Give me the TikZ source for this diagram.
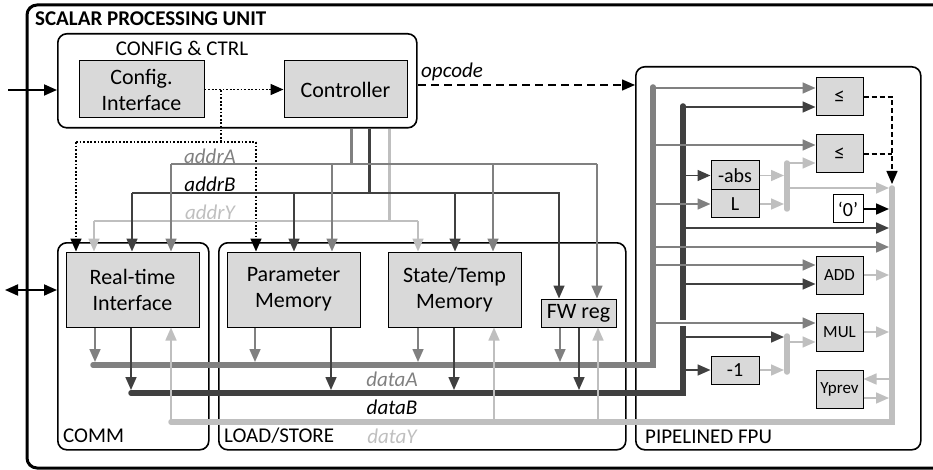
\documentclass[tikz,border=0pt]{standalone}
\usepackage{fontspec}
\setmainfont{Carlito}
\usetikzlibrary{arrows.meta}
\definecolor{cA}{HTML}{808080}
\definecolor{cB}{HTML}{404040}
\definecolor{cY}{HTML}{BFBFBF}
\definecolor{boxfill}{HTML}{D9D9D9}
\newcommand\fsz[2]{\fontsize{#1}{#2}\selectfont}
\tikzset{
  blk/.style={draw=black, fill=boxfill, line width=1pt, align=center, inner sep=0pt, font=\fsz{22}{26}},
  sblk/.style={blk, font=\fsz{17}{20}},
  grp/.style={draw=black, line width=1.6pt, rounded corners=9pt, inner sep=0pt},
  ar/.style={-{Triangle[length=13pt,width=11pt]}},
  lA/.style={draw=cA, line width=1.6pt},
  lB/.style={draw=cB, line width=1.6pt},
  lY/.style={draw=cY, line width=1.6pt},
  busA/.style={draw=cA, line width=2.6pt},
  busB/.style={draw=cB, line width=2.6pt},
  busY/.style={draw=cY, line width=2.6pt},
  dA/.style={draw=cA, line width=5.5pt, line cap=round},
  dB/.style={draw=cB, line width=5.5pt, line cap=round},
  dY/.style={draw=cY, line width=5.5pt, line cap=round},
  lbl/.style={font=\fsz{21}{25}\itshape, inner sep=0pt},
  grplbl/.style={font=\fsz{21}{25}, inner sep=0pt, anchor=west},
  dotl/.style={draw=black, line width=1.5pt, dash pattern=on 1.8pt off 1.8pt},
}
\begin{document}
\begin{tikzpicture}[x=1pt,y=-1pt]
\useasboundingbox (0,0) rectangle (933,470);

% outer unit frame (open towards the right edge)
\draw[line width=3pt, rounded corners=10pt] (940,5) -- (27,5) -- (27,468) -- (940,468);
\node[anchor=west, font=\fsz{21}{25}\bfseries, inner sep=0pt] (title) at (35,19) {SCALAR PROCESSING UNIT};

% group containers
\node[grp, anchor=north west, minimum width=359pt, minimum height=94pt] (cc) at (57,33) {};
\node[font=\fsz{21}{25}, inner sep=0pt] (cclbl) at (182,48) {CONFIG \& CTRL};
\node[grp, anchor=north west, minimum width=151pt, minimum height=207pt] (comm) at (57,242) {};
\node[grp, anchor=north west, minimum width=407pt, minimum height=207pt] (ls) at (218,242) {};
\node[grp, anchor=north west, minimum width=285pt, minimum height=383pt] (fpu) at (635,66) {};
\node[grplbl] (commlbl) at (63,436) {COMM};
\node[grplbl] (lslbl) at (224,436) {LOAD/STORE};
\node[grplbl] (fpulbl) at (645,437) {PIPELINED FPU};

% configuration and control blocks
\node[blk, minimum width=125pt, minimum height=57pt] (cfg) at (141.5,89.5) {Config.\\Interface};
\node[blk, minimum width=123pt, minimum height=57pt] (ctrl) at (345.5,89.5) {Controller};

% memories and interface blocks
\node[blk, minimum width=133pt, minimum height=75pt] (rti) at (132.5,289.5) {Real-time\\Interface};
\node[blk, minimum width=133pt, minimum height=75pt] (pmem) at (293.5,289.5) {Parameter\\Memory};
\node[blk, minimum width=133pt, minimum height=75pt] (smem) at (454.5,289.5) {State/Temp\\Memory};
\node[blk, minimum width=75pt, minimum height=28pt] (fw) at (578.5,313) {FW reg};

% FPU units
\node[sblk, font=\fsz{21}{24}, minimum width=47pt, minimum height=38pt] (le1) at (839.5,97) {≤};
\node[sblk, font=\fsz{21}{24}, minimum width=47pt, minimum height=38pt] (le2) at (839.5,154) {≤};
\node[blk, font=\fsz{20}{24}, minimum width=48pt, minimum height=29pt] (nabs) at (735,175.5) {-abs};
\node[blk, font=\fsz{20}{24}, minimum width=48pt, minimum height=28pt] (lim) at (735,204) {L};
\node[blk, fill=white, font=\fsz{20}{24}, minimum width=30pt, minimum height=28pt] (zero) at (848,209) {‘0’};
\node[sblk, minimum width=47pt, minimum height=38pt] (add) at (839.5,275) {ADD};
\node[sblk, minimum width=47pt, minimum height=38pt] (mul) at (839.5,332) {MUL};
\node[blk, font=\fsz{20}{24}, minimum width=48pt, minimum height=28pt] (dec) at (735,370) {-1};
\node[sblk, minimum width=47pt, minimum height=38pt] (yprev) at (839.5,389) {Yprev};

% external ports
\coordinate (cfgin) at (8,90);
\coordinate (ioext) at (5,290);
\draw[line width=1.8pt, ar] (cfgin) -- (cc.west |- cfgin);
\draw[line width=1.8pt, {Triangle[length=13pt,width=11pt]}-{Triangle[length=13pt,width=11pt]}] (ioext) -- (comm.west |- ioext);

% opcode to the FPU
\coordinate (opc) at (418,85);
\draw[line width=1.4pt, dash pattern=on 8pt off 5pt, ar] (opc) -- (fpu.west |- opc);
\node[lbl, anchor=south west] (opclbl) at (421,81) {opcode};

% configuration path (dotted)
\coordinate (cfgsplit) at (221,90);
\coordinate (cfgl) at (76,142);
\coordinate (cfgr) at (256,142);
\draw[dotl, ar] (cfg.east) -- (ctrl.west);
\draw[dotl] (cfgsplit) -- (221,142);
\draw[dotl] (cfgl) -- (cfgr);
\draw[dotl, ar] (cfgl) -- (cfgl |- rti.north);
\draw[dotl, ar] (cfgr) -- (cfgr |- pmem.north);

% address buses from the controller
\draw[cA, line width=3pt] (351,0 |- cc.south) -- (351,164);
\draw[cB, line width=3pt] (369,0 |- cc.south) -- (369,193);
\draw[cY, line width=3pt] (389,0 |- cc.south) -- (389,221);
\draw[busA] (171,164) -- (597,164);
\draw[busB] (132,193) -- (560,193);
\draw[busY] (94,221) -- (418,221);
\node[lbl, text=cA] (addrA) at (210,156) {addrA};
\node[lbl, text=black] (addrB) at (210,184) {addrB};
\node[lbl, text=cY] (addrY) at (210,212) {addrY};

\draw[lY, ar] (94,221) -- (94,0 |- rti.north);
\draw[lB, ar] (132,193) -- (132,0 |- rti.north);
\draw[lA, ar] (171,164) -- (171,0 |- rti.north);
\draw[lB, ar] (294,193) -- (294,0 |- pmem.north);
\draw[lA, ar] (332,164) -- (332,0 |- pmem.north);
\draw[lY, ar] (418,221) -- (418,0 |- smem.north);
\draw[lB, ar] (455,193) -- (455,0 |- smem.north);
\draw[lA, ar] (493,164) -- (493,0 |- smem.north);
\draw[lB, ar] (559,193) -- (559,0 |- fw.north);
\draw[lA, ar] (597,164) -- (597,0 |- fw.north);

% data buses
\draw[dA] (93,365) -- (653,365) -- (653,87);
\draw[dB] (131,393) -- (683,393) -- (683,106);
\draw[dY] (171,422) -- (892,422) -- (892,188);
\node[lbl, text=cA] (dataA) at (392,379) {dataA};
\node[lbl, text=black] (dataB) at (392,407) {dataB};
\node[lbl, text=cY] (dataY) at (392,436) {dataY};

% block outputs onto the data buses
\draw[lA, ar] (95,0 |- rti.south) -- (95,362);
\draw[lB, ar] (131,0 |- rti.south) -- (131,390);
\draw[lY, ar] (171,422) -- (171,0 |- rti.south);
\draw[lA, ar] (255,0 |- pmem.south) -- (255,362);
\draw[lB, ar] (331,0 |- pmem.south) -- (331,390);
\draw[lA, ar] (418,0 |- smem.south) -- (418,362);
\draw[lB, ar] (454,0 |- smem.south) -- (454,390);
\draw[lY, ar] (494,422) -- (494,0 |- smem.south);
\draw[lA, ar] (560,0 |- fw.south) -- (560,362);
\draw[lB, ar] (579,0 |- fw.south) -- (579,390);
\draw[lY, ar] (598,422) -- (598,0 |- fw.south);

% FPU datapath
\coordinate (selA) at (787,163);
\coordinate (selB) at (787,336);
\draw[lA, ar] (653,88) -- (le1.west |- 0,88);
\draw[lB, ar] (683,107) -- (le1.west |- 0,107);
\draw[lA, ar] (653,145) -- (le2.west |- 0,145);
\draw[lY, ar] (787,163) -- (le2.west |- 0,163);
\draw[lB, ar] (683,0 |- nabs.west) -- (nabs.west);
\draw[lA, ar] (653,0 |- lim.west) -- (lim.west);
\draw[lY, ar] (nabs.east) -- (784,0 |- nabs.east);
\draw[lY, ar] (lim.east) -- (784,0 |- lim.east);
\draw[dY] (selA) -- (787,209);
\draw[lY, ar] (787,188) -- (889,188);
\draw[line width=1.6pt, ar] (zero.east) -- (889,0 |- zero.east);
\draw[lB, ar] (683,228) -- (889,228);
\draw[lA, ar] (653,247) -- (889,247);
\draw[lA, ar] (653,265) -- (add.west |- 0,265);
\draw[lB, ar] (683,284) -- (add.west |- 0,284);
\draw[lY, ar] (add.east) -- (889,0 |- add.east);
\draw[white, line width=6pt] (679,323) -- (687,323);
\draw[lA, ar] (653,323) -- (mul.west |- 0,323);
\draw[lB, ar] (683,337) -- (784,337);
\draw[dY] (selB) -- (787,372);
\draw[lY, ar] (787,342) -- (mul.west |- 0,342);
\draw[lB, ar] (683,0 |- dec.west) -- (dec.west);
\draw[lY, ar] (dec.east) -- (784,0 |- dec.east);
\draw[lY, ar] (mul.east) -- (889,0 |- mul.east);
\draw[lY, ar] (889,379) -- (yprev.east |- 0,379);
\draw[lY, ar] (yprev.east |- 0,398) -- (889,398);

% comparator results select the output
\draw[line width=1.3pt, dash pattern=on 5pt off 3pt] (le2.east) -- (892,0 |- le2.east);
\draw[line width=1.3pt, dash pattern=on 5pt off 3pt, ar] (le1.east) -- (892,0 |- le1.east) -- (892,184);
\end{tikzpicture}
\end{document}
